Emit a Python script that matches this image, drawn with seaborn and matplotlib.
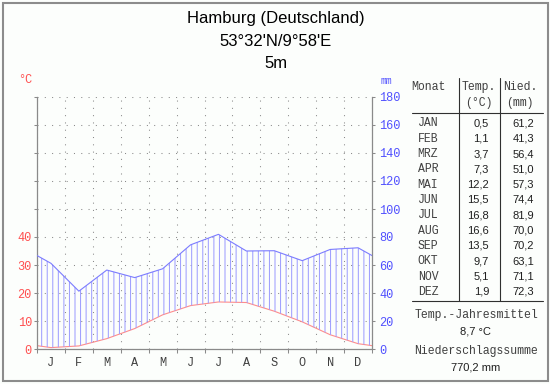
import numpy as np
import pandas as pd
import matplotlib
matplotlib.use("Agg")
import matplotlib.pyplot as plt
import seaborn as sns
from matplotlib.lines import Line2D
from matplotlib.patches import Rectangle

# climate data Hamburg
months = ["JAN", "FEB", "MRZ", "APR", "MAI", "JUN", "JUL", "AUG", "SEP", "OKT", "NOV", "DEZ"]
month_letters = ["J", "F", "M", "A", "M", "J", "J", "A", "S", "O", "N", "D"]
temp = [0.5, 1.1, 3.7, 7.3, 12.2, 15.5, 16.8, 16.6, 13.5, 9.7, 5.1, 1.9]
prec = [61.2, 41.3, 56.4, 51.0, 57.3, 74.4, 81.9, 70.0, 70.2, 63.1, 71.1, 72.3]
temp_labels = [0, 10, 20, 30, 40]
prec_ticks = [0, 20, 40, 60, 80, 100, 120, 140, 160, 180]
title_lines = ["Hamburg (Deutschland)", "53°32'N/9°58'E", "5m"]
mean_temp = "8,7 °C"
total_prec = "770,2 mm"

RED = "#ff8c8c"
RED_TXT = "#ff5050"
BLUE = "#7c7cff"
BLUE_TXT = "#5050ff"
HATCH = "#9c9cff"
GRID = "#8a8a8a"
MONO = "Liberation Mono"
SANS = "Liberation Sans"

sns.set_style("white")
plt.rcParams["font.family"] = [SANS, "DejaVu Sans"]
plt.rcParams["hatch.linewidth"] = 0.72

W, H = 550, 384


def fx(x):
    return x / W


def fy(y):
    return 1 - y / H


def fmt(v):
    return "{:.1f}".format(v).replace(".", ",")


# monthly values at mid-month, December/January repeated so the curve runs to the edges
df = pd.DataFrame({"pos": np.arange(12) + 0.5, "temp": temp, "prec": prec})
wrap = pd.concat([df.iloc[[-1]].assign(pos=-0.5), df, df.iloc[[0]].assign(pos=12.5)],
                 ignore_index=True)

fig = plt.figure(figsize=(5.5, 3.84), dpi=100, facecolor="#fcfefc")
ax = fig.add_axes([fx(37), fy(349), fx(372) - fx(37), fy(97) - fy(349)])
ax.set_facecolor("none")
ax2 = ax.twinx()

sns.lineplot(data=wrap, x="pos", y="temp", ax=ax, color=RED, linewidth=0.8)
ax2.fill_between(wrap["pos"], wrap["temp"] * 2, wrap["prec"], facecolor="none",
                 edgecolor=HATCH, hatch="|||", linewidth=0)
sns.lineplot(data=wrap, x="pos", y="prec", ax=ax2, color=BLUE, linewidth=0.8)

ax.set_xlim(0, 12)
ax.set_ylim(0, 90)
ax2.set_ylim(0, 180)
ax.set_xlabel("")
ax.set_ylabel("")
ax2.set_xlabel("")
ax2.set_ylabel("")

# grid
ax.set_yticks(range(0, 100, 10))
ax.set_yticklabels([str(t) if t in temp_labels else "" for t in range(0, 100, 10)])
ax.set_xticks(range(0, 13))
ax.set_xticklabels([""] * 13)
ax.set_xticks(np.arange(12) + 0.5, minor=True)
ax.set_xticklabels(month_letters, minor=True)
ax.grid(True, which="major", linestyle=(0, (1, 6)), color=GRID, linewidth=0.75)
ax.set_axisbelow(True)

ax.tick_params(axis="y", which="major", direction="out", length=2.2, width=0.75,
               color=GRID, labelcolor=RED_TXT, labelsize=8.6, pad=1.5, left=True)
ax.tick_params(axis="x", which="major", direction="out", length=3, width=0.75,
               color=GRID, bottom=True)
ax.tick_params(axis="x", which="minor", length=0, labelcolor="#404040", labelsize=8.6, pad=6)
for lab in ax.get_yticklabels() + ax.get_xticklabels(minor=True):
    lab.set_family(MONO)

ax2.set_yticks(prec_ticks)
ax2.tick_params(axis="y", direction="out", length=2.2, width=0.75, color=GRID,
                labelcolor=BLUE_TXT, labelsize=8.6, pad=3, right=True)
for lab in ax2.get_yticklabels():
    lab.set_family(MONO)

for a in (ax, ax2):
    for side, sp in a.spines.items():
        sp.set_color(GRID)
        sp.set_linewidth(0.9)
ax.spines["top"].set_visible(False)
ax.spines["right"].set_visible(False)
ax2.spines["top"].set_visible(False)
ax2.spines["left"].set_visible(False)
ax2.spines["bottom"].set_visible(False)

fig.text(fx(25), fy(80), "°C", color=RED_TXT, family=MONO, fontsize=8.6, ha="center", va="center")
fig.text(fx(386), fy(81), "mm", color=BLUE_TXT, family=MONO, fontsize=7, ha="center", va="center")

# title
for txt, y in zip(title_lines, [18, 41, 63]):
    fig.text(fx(276), fy(y), txt, ha="center", va="center", fontsize=12, color="#000000")

# table
def hline(x0, x1, y, color="#303030", lw=0.8):
    fig.add_artist(Line2D([fx(x0), fx(x1)], [fy(y), fy(y)], color=color, linewidth=lw))


def vline(x, y0, y1, color="#303030", lw=0.8):
    fig.add_artist(Line2D([fx(x), fx(x)], [fy(y0), fy(y1)], color=color, linewidth=lw))


vline(459, 78, 301)
vline(500, 78, 301)
hline(412, 543, 113)
hline(412, 543, 301)

hdr = dict(family=MONO, fontsize=8.3, color="#404040", ha="center", va="center")
fig.text(fx(428), fy(87), "Monat", **hdr)
fig.text(fx(479), fy(87), "Temp.", **hdr)
fig.text(fx(479), fy(103), "(°C)", **hdr)
fig.text(fx(520), fy(87), "Nied.", **hdr)
fig.text(fx(520), fy(103), "(mm)", **hdr)

for i, (m, t, p) in enumerate(zip(months, temp, prec)):
    y = 123.5 + i * 15.3
    fig.text(fx(428), fy(y), m, family=MONO, fontsize=8.3, color="#404040", ha="center", va="center")
    fig.text(fx(489), fy(y), fmt(t), fontsize=8, color="#202020", ha="right", va="center")
    fig.text(fx(534), fy(y), fmt(p), fontsize=8, color="#202020", ha="right", va="center")

fig.text(fx(476), fy(315), "Temp.-Jahresmittel", **hdr)
fig.text(fx(476), fy(331), mean_temp, fontsize=8, color="#202020", ha="center", va="center")
fig.text(fx(476), fy(351), "Niederschlagssumme", **hdr)
fig.text(fx(476), fy(368), total_prec, fontsize=8, color="#202020", ha="center", va="center")

# outer frame
fig.add_artist(Rectangle((fx(2.5), fy(380.5)), fx(545), 378 / H, fill=False,
                         edgecolor="#8c8c8c", linewidth=1.5))

fig.savefig("out.png", dpi=100, facecolor=fig.get_facecolor())
